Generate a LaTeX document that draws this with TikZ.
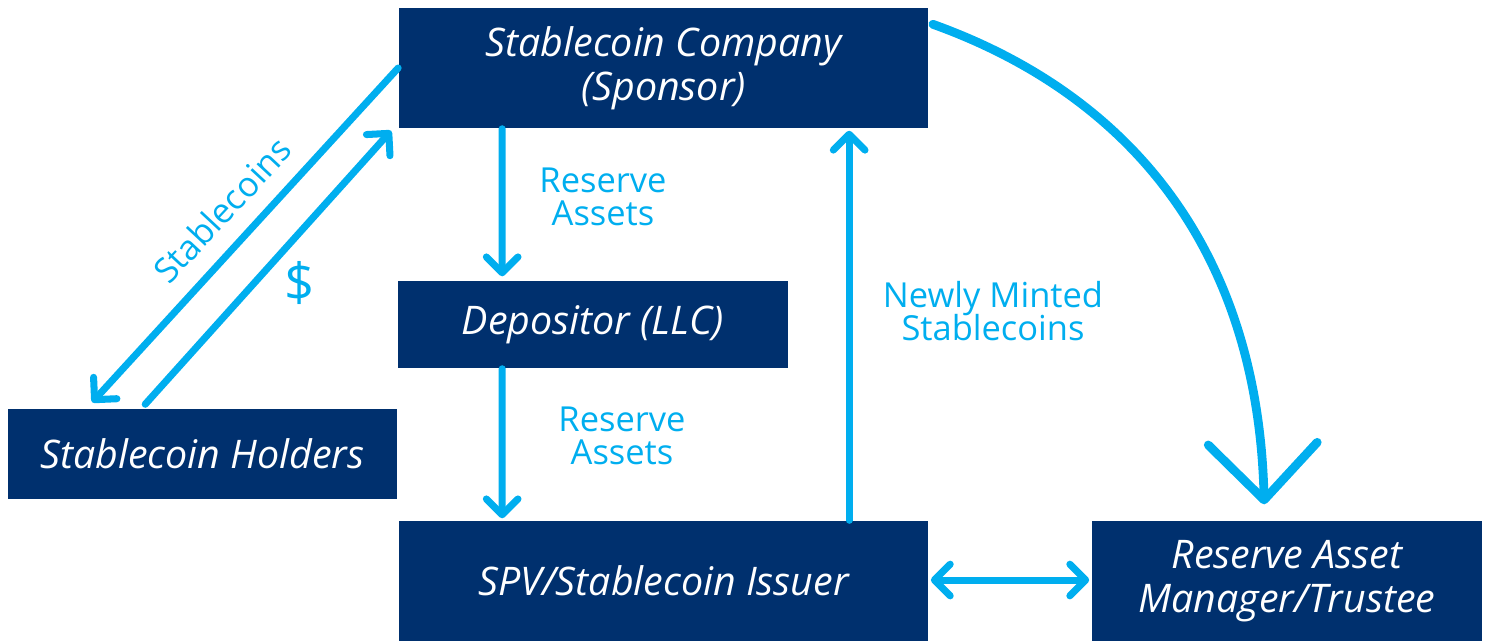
\documentclass[tikz,border=0pt]{standalone}
\usepackage{fontspec}
\setmainfont{Open Sans}
\usetikzlibrary{arrows.meta,calc}
\definecolor{navy}{RGB}{0,48,110}
\definecolor{sky}{RGB}{0,174,239}
% keep the stated line spacing even where descenders meet ascenders
\lineskiplimit=-20pt
\tikzset{
  box/.style={fill=navy, text=white, inner sep=0pt, align=center,
    font=\itshape\fontsize{11.2}{12.6}\selectfont},
  flow/.style={draw=sky, line width=2pt, line cap=round,
    -{Straight Barb[round,length=4.5pt,width=9pt]}},
  twoway/.style={draw=sky, line width=2pt, line cap=round,
    {Straight Barb[round,length=4.5pt,width=9pt]}-{Straight Barb[round,length=4.5pt,width=9pt]}},
  bigflow/.style={draw=sky, line width=2.5pt, line cap=round,
    -{Straight Barb[round,length=16pt,width=31pt]}},
  lbl/.style={text=sky, align=center, inner sep=0pt,
    font=\fontsize{9.8}{9.4}\selectfont}
}
\begin{document}
\begin{tikzpicture}[x=0.01cm,y=-0.01cm]
\useasboundingbox (0,0) rectangle (1486,641);

% entities
\node[box, minimum width=5.29cm, minimum height=1.2cm] (company) at (663.5,68)
  {Stablecoin Company\\(Sponsor)};
\node[box, minimum width=3.9cm, minimum height=0.87cm] (depositor) at (593,324.5)
  {Depositor (LLC)};
\node[box, minimum width=3.89cm, minimum height=0.9cm] (holders) at (202.5,454)
  {Stablecoin Holders};
\node[box, minimum width=5.29cm, minimum height=1.2cm] (spv) at (663.5,581)
  {SPV/Stablecoin Issuer};
\node[box, minimum width=3.9cm, minimum height=1.2cm] (manager) at (1287,581)
  {Reserve Asset\\Manager/Trustee};

% trading between holders and the sponsor
\draw[flow] (company.west) -- ($(holders.north west)+(85,-6)$);
\draw[flow] ($(holders.north west)+(138,-4)$) -- ($(company.south west)+(-7,2)$);
\node[lbl, rotate=47] (coinlbl) at (222,210) {Stablecoins};
\node[lbl, font=\fontsize{15}{15}\selectfont] (usd) at (300,283) {\$};

% reserve flow down the chain
\draw[flow] ($(company.south west)+(104,0)$) -- ($(depositor.north west)+(105,-4)$);
\node[lbl] (res1) at (603,197) {Reserve\\Assets};
\draw[flow] ($(depositor.south west)+(105,0)$) -- ($(spv.north west)+(104,-2)$);
\node[lbl] (res2) at (622,436) {Reserve\\Assets};

% minted coins back to the sponsor
\draw[flow] ($(spv.north west)+(451,0)$) -- ($(company.south west)+(451,2)$);
\node[lbl] (minted) at (993,311) {Newly Minted\\Stablecoins};

% sponsor to the reserve manager
\draw[bigflow] ($(company.north east)+(4,17)$)
  .. controls (1130,95) and (1258,250) .. ($(manager.north west)+(173,-16)$);

% issuer and manager exchange
\draw[twoway] ($(spv.east)+(2,-1)$) -- ($(manager.west)+(-2,-1)$);
\end{tikzpicture}
\end{document}
